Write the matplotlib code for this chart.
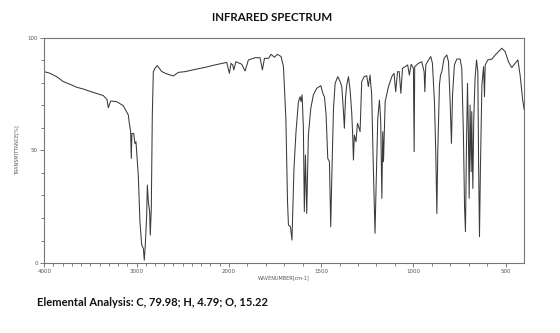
import numpy as np
import matplotlib
matplotlib.use("Agg")
import matplotlib.pyplot as plt

# IR spectrum (wavenumber cm-1, transmittance %)
wavenumber = [4000, 3938, 3866, 3794, 3721, 3649, 3577, 3469, 3360, 3320, 3306, 3280, 3215, 3144,
              3089, 3078, 3064, 3057, 3050, 3031, 3017, 3006, 2981, 2963, 2944, 2926, 2916, 2905,
              2890, 2883, 2872, 2858, 2851, 2840, 2829, 2818, 2800, 2775, 2728, 2680, 2601, 2547,
              2475, 2366, 2258, 2150, 2023, 1997, 1988, 1979, 1973, 1962, 1930, 1912, 1894, 1858,
              1831, 1818, 1807, 1785, 1771, 1753, 1737, 1717, 1704, 1691, 1682, 1677, 1666, 1658,
              1647, 1636, 1623, 1614, 1609, 1603, 1596, 1591, 1585, 1578, 1569, 1556, 1542, 1524,
              1502, 1488, 1482, 1473, 1464, 1455, 1448, 1442, 1433, 1424, 1410, 1397, 1388, 1379,
              1374, 1368, 1361, 1352, 1343, 1334, 1329, 1325, 1320, 1311, 1303, 1294, 1289, 1280,
              1267, 1253, 1244, 1235, 1226, 1217, 1208, 1202, 1193, 1184, 1177, 1171, 1166, 1162,
              1153, 1135, 1117, 1105, 1096, 1086, 1077, 1068, 1059, 1045, 1031, 1022, 1012, 1000,
              996, 993, 973, 955, 942, 938, 933, 918, 906, 897, 886, 879, 873, 868, 859, 853, 846,
              834, 819, 810, 801, 794, 788, 778, 765, 747, 738, 729, 723, 718, 713, 707, 702, 698,
              693, 687, 684, 678, 673, 666, 658, 651, 647, 642, 637, 629, 620, 615, 611, 597, 575,
              557, 539, 521, 503, 485, 467, 449, 434, 422, 409, 400]
transmittance = [84.9, 84.2, 82.7, 80.5, 79.3, 78.0, 77.2, 75.7, 74.3, 72.5, 68.9, 71.9, 71.6, 69.8,
                 65.7, 62.0, 58.3, 46.4, 57.5, 57.5, 53.0, 53.8, 39.0, 18.3, 8.0, 6.5, 1.3, 8.0,
                 21.3, 34.6, 27.2, 22.8, 12.4, 24.3, 65.7, 84.9, 86.4, 87.6, 85.0, 84.0, 83.0, 84.6,
                 84.9, 85.9, 86.8, 87.9, 89.0, 84.2, 88.6, 87.9, 85.7, 89.3, 88.2, 85.2, 90.1, 91.1,
                 91.1, 85.7, 90.8, 90.8, 92.6, 91.3, 92.6, 91.6, 87.1, 64.2, 27.2, 16.9, 16.1, 10.2,
                 42.0, 58.3, 71.6, 73.8, 71.6, 74.6, 59.8, 22.8, 47.9, 22.0, 56.8, 68.6, 74.6, 77.5,
                 78.7, 74.6, 73.8, 65.7, 46.4, 45.0, 16.1, 39.0, 68.6, 79.7, 82.7, 80.5, 78.3, 67.2,
                 59.8, 73.1, 79.0, 82.7, 76.8, 66.4, 56.8, 45.7, 56.8, 53.8, 62.0, 59.8, 58.3, 80.5,
                 82.7, 83.1, 78.3, 83.4, 74.6, 42.0, 13.2, 34.6, 64.2, 72.3, 62.7, 28.7, 58.3, 45.0,
                 71.6, 78.3, 82.7, 84.2, 76.0, 84.9, 84.9, 75.3, 86.4, 87.1, 87.9, 83.4, 88.2, 86.4,
                 49.4, 87.1, 88.6, 89.3, 84.9, 76.0, 87.9, 90.1, 91.6, 88.6, 71.6, 49.4, 22.0, 49.4, 79.0, 83.4, 84.9,
                 90.8, 92.3, 89.3, 71.6, 53.1, 74.6, 87.9, 90.5, 90.5, 86.4, 56.8, 25.0, 13.9, 49.4, 79.7, 56.8, 28.7,
                 70.1, 40.5, 67.2, 33.1, 64.2, 82.0, 90.1, 84.9, 45.0, 11.7, 42.0, 79.0, 87.1, 73.8, 87.9, 90.1, 90.5,
                 92.3, 93.8, 95.3, 93.8, 89.3, 86.7, 88.6, 90.1, 83.4, 73.1, 68.0]

x_ticks = [4000, 3000, 2000, 1500, 1000, 500]
y_ticks = [0, 50, 100]


# IR charts squeeze the range above 2000 cm-1 to half scale
def fwd(w):
    w = np.asarray(w, dtype=float)
    return np.where(w <= 2000, w, 2000 + (w - 2000) / 2)


def inv(v):
    v = np.asarray(v, dtype=float)
    return np.where(v <= 2000, v, 2000 + 2 * (v - 2000))


fig = plt.figure(figsize=(5.6, 3.33), dpi=100)
ax = fig.add_axes([0.079, 0.21, 0.857, 0.677])
ax.set_xscale("function", functions=(fwd, inv))
ax.plot(wavenumber, transmittance, color="#3a3a3a", lw=0.75)
ax.set_xlim(4000, 400)
ax.set_ylim(0, 100)

ax.set_xticks(x_ticks)
ax.set_xticklabels([str(t) for t in x_ticks])
ax.set_xticks(list(range(3900, 400, -100)), minor=True)
ax.set_yticks(y_ticks)
ax.set_yticklabels([str(t) for t in y_ticks])
ax.set_yticks(list(range(0, 101, 10)), minor=True)
ax.tick_params(which="both", direction="out", colors="#666666", labelsize=4,
               labelcolor="#555555", width=0.6, pad=1.5)
ax.tick_params(which="major", length=3)
ax.tick_params(which="minor", length=2)
for spine in ax.spines.values():
    spine.set_color("#777777")
    spine.set_linewidth(0.8)

ax.set_xlabel("WAVENUMBER[cm-1]", fontsize=3.5, color="#555555", labelpad=1)
ax.set_ylabel("TRANSMITTANCE[%]", fontsize=3.5, color="#555555", labelpad=6)

fig.text(0.485, 0.946, "INFRARED SPECTRUM", ha="center", va="center",
         fontsize=8.3, fontweight="bold", family="Lato", color="#111111")
fig.text(0.066, 0.093, "Elemental Analysis: C, 79.98; H, 4.79; O, 15.22", ha="left",
         va="center", fontsize=8, fontweight="bold", family="Lato", color="#111111")

fig.savefig("out.png", dpi=100, facecolor="white")
